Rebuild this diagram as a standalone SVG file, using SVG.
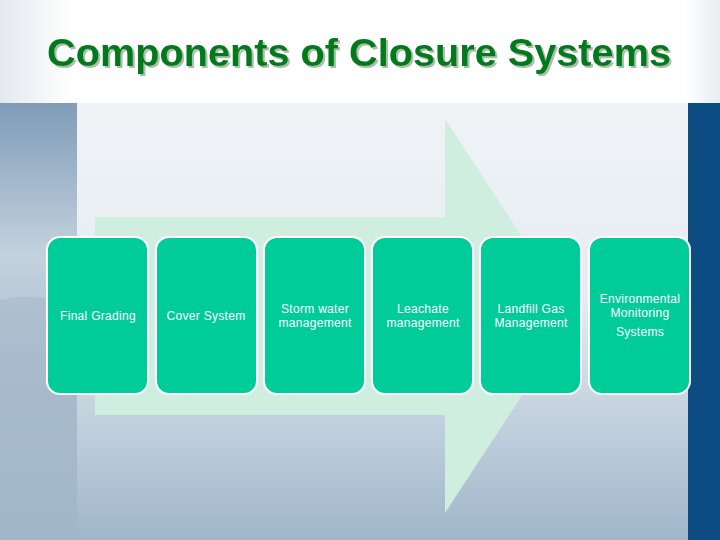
<svg xmlns="http://www.w3.org/2000/svg" width="720" height="540" viewBox="0 0 720 540">
<defs>
<linearGradient id="bgv" x1="0" y1="0" x2="0" y2="1">
<stop offset="0" stop-color="#f4f7f9"/><stop offset="0.55" stop-color="#e6ecf1"/><stop offset="1" stop-color="#9fb6ca"/>
</linearGradient>
<linearGradient id="left" x1="0" y1="0" x2="0" y2="1">
<stop offset="0" stop-color="#7f9cb8"/><stop offset="0.35" stop-color="#c4d2de"/><stop offset="0.6" stop-color="#a9bccd"/><stop offset="1" stop-color="#9ab1c6"/>
</linearGradient>
<linearGradient id="top" x1="0" y1="0" x2="1" y2="0">
<stop offset="0" stop-color="#e4e9ee"/><stop offset="0.1" stop-color="#ffffff"/><stop offset="0.95" stop-color="#ffffff"/><stop offset="1" stop-color="#e8edf1"/>
</linearGradient>
<filter id="sh" x="-5%" y="-20%" width="110%" height="140%">
<feDropShadow dx="2" dy="2" stdDeviation="0.5" flood-color="#9fb89f" flood-opacity="0.9"/>
</filter>
<style>
.box{fill:#00cc99;stroke:#ffffff;stroke-width:2}
.lbl{font-family:"Liberation Sans",Arial,sans-serif;font-size:12px;fill:#ffffff;text-anchor:middle;letter-spacing:0.3px}
</style>
</defs>
<rect width="720" height="540" fill="url(#bgv)"/>
<rect x="0" y="103" width="77" height="437" fill="url(#left)"/>
<path d="M0,300 Q40,290 77,310 L77,540 L0,540 Z" fill="#a6bacc" opacity="0.6"/>
<rect x="0" y="0" width="720" height="103" fill="url(#top)"/>
<rect x="688" y="103" width="32" height="437" fill="#0d4c82"/>
<text x="47" y="66" textLength="624" lengthAdjust="spacingAndGlyphs" font-family="'Liberation Sans',Arial,sans-serif" font-size="38" font-weight="bold" fill="#007a1a" filter="url(#sh)">Components of Closure Systems</text>
<polygon id="arrow" points="95,217 445,217 445,119 574,316 445,513 445,415 95,415" fill="#cfeee0"/>
<g id="connectors"/>
<g id="n1"><rect class="box" x="47" y="237" width="101" height="157" rx="13"/><text class="lbl" x="98" y="320">Final Grading</text></g>
<g id="n2"><rect class="box" x="156" y="237" width="101" height="157" rx="13"/><text class="lbl" x="206" y="320">Cover System</text></g>
<g id="n3"><rect class="box" x="264" y="237" width="101" height="157" rx="13"/><text class="lbl" x="315" y="313">Storm water</text><text class="lbl" x="315" y="327">management</text></g>
<g id="n4"><rect class="box" x="372" y="237" width="101" height="157" rx="13"/><text class="lbl" x="423" y="313">Leachate</text><text class="lbl" x="423" y="327">management</text></g>
<g id="n5"><rect class="box" x="480" y="237" width="101" height="157" rx="13"/><text class="lbl" x="531" y="313">Landfill Gas</text><text class="lbl" x="531" y="327">Management</text></g>
<g id="n6"><rect class="box" x="589" y="237" width="101" height="157" rx="13"/><text class="lbl" x="640" y="303">Environmental</text><text class="lbl" x="640" y="317">Monitoring</text><text class="lbl" x="640" y="336">Systems</text></g>
</svg>
